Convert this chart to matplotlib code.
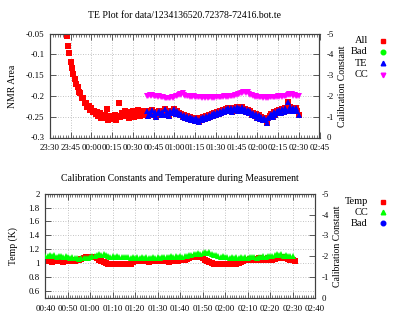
import matplotlib
matplotlib.use('Agg')
import matplotlib.pyplot as plt
import matplotlib.dates as mdates
from matplotlib.lines import Line2D
from matplotlib.ticker import FixedLocator, FixedFormatter, AutoMinorLocator
import pandas as pd

plt.rcParams['font.family'] = ['Liberation Serif', 'DejaVu Serif']

# ---------------- data ----------------
# one reading per minute
all_start = '2009-02-08 23:42'
meas_start = '2009-02-09 00:40'

nmr_all = [
    -0.055, -0.079, -0.097, -0.119, -0.132, -0.148, -0.159, -0.172, -0.179, -0.190,
    -0.194, -0.205, -0.206, -0.216, -0.217, -0.226, -0.224, -0.234, -0.229, -0.238,
    -0.235, -0.244, -0.238, -0.248, -0.241, -0.252, -0.245, -0.254,
    -0.246, -0.231, -0.257, -0.248, -0.256, -0.250, -0.254, -0.245, -0.258, -0.249,
    -0.218, -0.251, -0.240, -0.249, -0.236, -0.247, -0.241, -0.252, -0.238, -0.246,
    -0.235, -0.250, -0.240, -0.245, -0.234, -0.248, -0.239, -0.244, -0.237,
    -0.246, -0.236, -0.249, -0.240, -0.244, -0.233, -0.247, -0.238, -0.250, -0.241,
    -0.236, -0.246, -0.239, -0.243, -0.232, -0.245, -0.238, -0.248, -0.235, -0.242,
    -0.237, -0.231, -0.244, -0.236, -0.241, -0.246, -0.243,
    -0.250, -0.247, -0.254, -0.249, -0.256, -0.251, -0.258, -0.253, -0.255, -0.260,
    -0.252, -0.258, -0.262, -0.254, -0.259, -0.250, -0.256, -0.248, -0.253, -0.246,
    -0.251, -0.243, -0.249,
    -0.241, -0.246, -0.238, -0.243, -0.236, -0.241, -0.233, -0.239, -0.231, -0.237,
    -0.229, -0.235, -0.228, -0.238, -0.230, -0.234, -0.226, -0.236, -0.229, -0.233,
    -0.227, -0.235,
    -0.231, -0.238, -0.234, -0.241, -0.237, -0.245, -0.240, -0.248, -0.244, -0.252,
    -0.247, -0.255, -0.250, -0.257, -0.252, -0.259, -0.265, -0.253,
    -0.248, -0.243, -0.250, -0.238, -0.245, -0.235, -0.242, -0.233, -0.240, -0.231,
    -0.238, -0.229, -0.236, -0.215, -0.233, -0.227, -0.237, -0.230, -0.234, -0.228,
    -0.236, -0.245,
]
te_first_index = 58  # TE readings begin at 00:40

cal_const = [
    -2.02, -1.99, -2.04, -2.00, -2.03, -1.98, -2.02, -2.00, -1.97, -2.01, -1.96,
    -1.93, -1.95, -1.90, -1.92, -1.88, -1.91, -1.89, -1.93, -1.90,
    -1.96, -1.99, -2.02, -2.05,
    -2.08, -2.05, -2.12, -2.06, -2.01,
    -1.98, -2.01, -1.96, -1.99, -1.95, -1.98, -1.94, -1.97, -1.95, -1.93, -1.96, -1.92,
    -1.94, -1.91, -1.95, -1.92, -1.96, -1.93, -1.90, -1.94, -1.92, -1.95, -1.93, -1.96, -1.94,
    -1.97, -1.95, -1.99, -1.96, -2.00, -1.97, -2.02, -1.98, -2.01, -1.99, -2.03, -2.05, -2.08,
    -2.10, -2.14, -2.12, -2.17, -2.20, -2.15, -2.18, -2.11, -2.07, -2.03,
    -2.00, -1.96, -1.99, -1.94, -1.97, -1.93, -1.96, -1.92, -1.95, -1.91, -1.94, -1.92, -1.95, -1.93,
    -1.96, -1.94, -1.97, -1.93, -1.98, -1.95, -2.00, -1.96, -1.99, -2.02, -2.00,
    -2.06, -2.10, -2.04, -2.08, -2.01, -2.05, -2.02, -1.99, -2.02,
]

temperature = [
    1.03, 1.04, 1.03, 1.02, 1.03, 1.04, 1.03, 1.03, 1.02, 1.04, 1.03, 1.03, 1.04, 1.03,
    1.04, 1.05, 1.06, 1.07, 1.08,
    1.08, 1.09, 1.08, 1.08,
    1.07, 1.05, 1.03, 1.01, 1.00,
    0.99, 0.99, 0.98, 0.99, 0.99, 0.98, 0.99, 0.99, 0.99, 0.98, 0.99,
    1.01, 1.03,
    1.03, 1.03, 1.04, 1.03, 1.03, 1.02, 1.03, 1.04, 1.03, 1.03,
    1.03, 1.04, 1.03, 1.03, 1.02, 1.03, 1.04, 1.03, 1.03, 1.04,
    1.04, 1.05, 1.06, 1.07, 1.08,
    1.08, 1.09, 1.08, 1.08, 1.07,
    1.05, 1.03, 1.01,
    1.00, 0.99, 0.99, 0.98, 0.99, 0.99, 0.99, 0.98, 0.99, 0.99, 0.99, 0.99, 1.00,
    1.02, 1.03, 1.04,
    1.05, 1.06, 1.04, 1.06, 1.05, 1.07, 1.05, 1.06, 1.05, 1.07, 1.06, 1.05, 1.06,
    1.07, 1.08, 1.07, 1.08, 1.07, 1.06,
    1.05, 1.04, 1.03,
]
bad_points = []

top_title = 'TE Plot for data/1234136520.72378-72416.bot.te'
bottom_title = 'Calibration Constants and Temperature during Measurement'

top_y_ticks = [-0.3, -0.25, -0.2, -0.15, -0.1, -0.05]
top_y_labels = ['-0.3', '-0.25', '-0.2', '-0.15', '-0.1', '-0.05']
cc_ticks = [0, -1, -2, -3, -4, -5]
cc_labels = ['0', '-1', '-2', '-3', '-4', '-5']
temp_ticks = [0.6, 0.8, 1.0, 1.2, 1.4, 1.6, 1.8, 2.0]
temp_labels = ['0.6', '0.8', '1', '1.2', '1.4', '1.6', '1.8', '2']

# ---------------- derived times ----------------
t_all = pd.date_range(all_start, periods=len(nmr_all), freq='1min')
t_te = t_all[te_first_index:]
te_vals = nmr_all[te_first_index:]
t_cc = pd.date_range(meas_start, periods=len(cal_const), freq='1min')
t_temp = pd.date_range(meas_start, periods=len(temperature), freq='1min')

RED, GREEN, BLUE, MAG = '#ff0000', '#00ff00', '#0000ff', '#ff00ff'
FRAME = '#404040'
GRID = '#b0b0b0'
FS = 7.0
TFS = 6.3

W, H = 402, 321
fig = plt.figure(figsize=(W / 100, H / 100), dpi=100)


def px_axes(l, t, r, b):
    return fig.add_axes([l / W, 1 - b / H, (r - l) / W, (b - t) / H])


def style(ax, ax2, minor_n):
    for a in (ax, ax2):
        for s in a.spines.values():
            s.set_color(FRAME)
            s.set_linewidth(0.8)
    ax.tick_params(axis='both', which='both', direction='in', colors=FRAME,
                   labelcolor='black', labelsize=TFS, top=True, right=False)
    ax.tick_params(axis='x', which='major', length=4, width=0.6, pad=5)
    ax.tick_params(axis='x', which='minor', length=2, width=0.5, top=True)
    ax.tick_params(axis='y', which='major', length=4, width=0.6, pad=4)
    ax2.tick_params(axis='y', which='major', direction='in', length=4, width=0.6,
                    colors=FRAME, labelcolor='black', labelsize=TFS, pad=5)
    ax.xaxis.set_minor_locator(AutoMinorLocator(minor_n))
    ax.grid(True, which='major', color=GRID, linestyle=(0, (1, 2)), linewidth=0.6)
    ax.set_axisbelow(True)


def legend(entries, x_text, x_mark, ys):
    for (label, marker, color, ms), y in zip(entries, ys):
        fig.text(x_text / W, 1 - y / H, label, ha='right', va='center', fontsize=FS + 0.5)
        fig.add_artist(Line2D([x_mark / W], [1 - y / H], transform=fig.transFigure,
                              marker=marker, color=color, markersize=ms, linestyle='none'))


# ---------------- top panel ----------------
ax = px_axes(50, 33.7, 319.5, 137.5)
ax2 = ax.twinx()
ax.plot(t_all, nmr_all, 's', color=RED, markersize=4.4, markeredgewidth=0, zorder=3)
ax.plot(t_te, te_vals, '^', color=BLUE, markersize=4.2, markeredgewidth=0, zorder=4)
ax2.plot(t_cc, cal_const, 'v', color=MAG, markersize=4.2, markeredgewidth=0, zorder=4)
ax.set_xlim(pd.Timestamp('2009-02-08 23:30'), pd.Timestamp('2009-02-09 02:45'))
ax.set_ylim(-0.3, -0.05)
ax2.set_ylim(0, -5)
ax.xaxis.set_major_locator(mdates.MinuteLocator(byminute=[0, 15, 30, 45]))
ax.xaxis.set_major_formatter(mdates.DateFormatter('%H:%M'))
ax.yaxis.set_major_locator(FixedLocator(top_y_ticks))
ax.yaxis.set_major_formatter(FixedFormatter(top_y_labels))
ax2.yaxis.set_major_locator(FixedLocator(cc_ticks))
ax2.yaxis.set_major_formatter(FixedFormatter(cc_labels))
style(ax, ax2, 8)
fig.text(184.75 / W, 1 - 16 / H, top_title, ha='center', va='center', fontsize=FS)
fig.text(13 / W, 1 - 86 / H, 'NMR Area', rotation=90, ha='center', va='center', fontsize=FS)
fig.text(343 / W, 1 - 86 / H, 'Calibration Constant', rotation=90, ha='center', va='center', fontsize=FS)
legend([('All', 's', RED, 3.5), ('Bad', 'o', GREEN, 3.3),
        ('TE', '^', BLUE, 3.3), ('CC', 'v', MAG, 3.3)],
       368, 383, [40.7, 52.0, 63.3, 74.6])

# ---------------- bottom panel ----------------
bx = px_axes(45.3, 193.7, 315, 297.7)
bx2 = bx.twinx()
bx.plot(t_temp, temperature, 's', color=RED, markersize=4.6, markeredgewidth=0, zorder=3)
bx2.plot(t_cc, cal_const, '^', color=GREEN, markersize=4.4, markeredgewidth=0, zorder=4)
bx.set_xlim(pd.Timestamp('2009-02-09 00:40'), pd.Timestamp('2009-02-09 02:40'))
bx.set_ylim(0.5, 2.0)
bx2.set_ylim(0, -5)
bx.xaxis.set_major_locator(mdates.MinuteLocator(byminute=range(0, 60, 10)))
bx.xaxis.set_major_formatter(mdates.DateFormatter('%H:%M'))
bx.yaxis.set_major_locator(FixedLocator(temp_ticks))
bx.yaxis.set_major_formatter(FixedFormatter(temp_labels))
bx2.yaxis.set_major_locator(FixedLocator(cc_ticks))
bx2.yaxis.set_major_formatter(FixedFormatter(cc_labels))
style(bx, bx2, 10)
fig.text(180.2 / W, 1 - 179 / H, bottom_title, ha='center', va='center', fontsize=FS)
fig.text(13 / W, 1 - 246 / H, 'Temp (K)', rotation=90, ha='center', va='center', fontsize=FS)
fig.text(338 / W, 1 - 246 / H, 'Calibration Constant', rotation=90, ha='center', va='center', fontsize=FS)
legend([('Temp', 's', RED, 3.5), ('CC', '^', GREEN, 3.3), ('Bad', 'o', BLUE, 3.3)],
       368, 383, [201.7, 212.3, 223.0])

fig.savefig('out.png', dpi=100)
